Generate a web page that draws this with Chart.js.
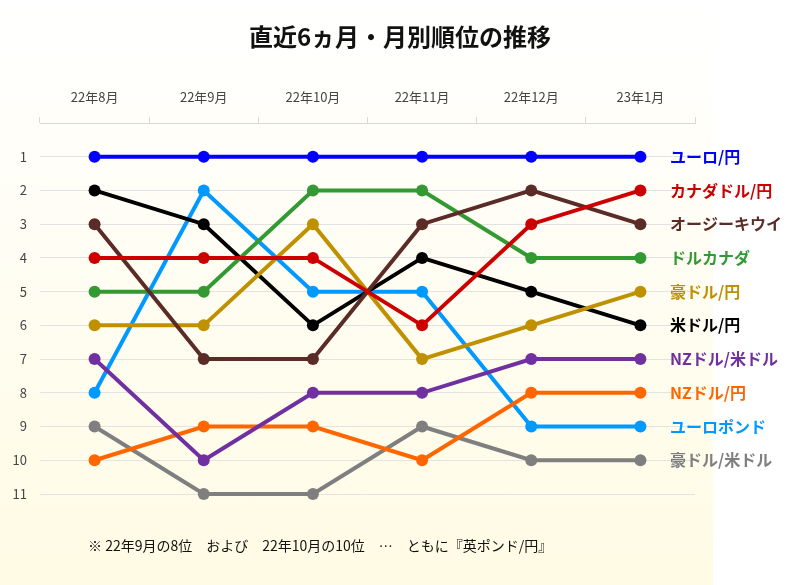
<!DOCTYPE html>
<html lang="ja">
<head>
<meta charset="utf-8">
<title>直近6ヵ月・月別順位の推移</title>
<script src="https://cdn.jsdelivr.net/npm/chart.js@4.4.1/dist/chart.umd.min.js"></script>
<style>
  html, body { margin: 0; padding: 0; background: #fff; }
  #wrap {
    position: relative;
    width: 800px;
    height: 585px;
    background:
      linear-gradient(to bottom, #ffffff 0%, #fffbe4 100%) 0 0 / 713px 585px no-repeat,
      #ffffff;
  }
</style>
</head>
<body>
<div id="wrap"><canvas id="rank-chart"></canvas></div>
<script>
// months (x axis, drawn on top)
const months = ['22年8月', '22年9月', '22年10月', '22年11月', '22年12月', '23年1月'];

// rank per month for each pair
const seriesNames = [
    'ユーロ/円', 'カナダドル/円', 'オージーキウイ', 'ドルカナダ', '豪ドル/円',
    '米ドル/円', 'NZドル/米ドル', 'NZドル/円', 'ユーロポンド', '豪ドル/米ドル'
];
const eurJpy    = [1, 1, 1, 1, 1, 1];
const cadJpy    = [4, 4, 4, 6, 3, 2];
const audNzd    = [3, 7, 7, 3, 2, 3];
const usdCad    = [5, 5, 2, 2, 4, 4];
const audJpy    = [6, 6, 3, 7, 6, 5];
const usdJpy    = [2, 3, 6, 4, 5, 6];
const nzdUsd    = [7, 10, 8, 8, 7, 7];
const nzdJpy    = [10, 9, 9, 10, 8, 8];
const eurGbp    = [8, 2, 5, 5, 9, 9];
const audUsd    = [9, 11, 11, 9, 10, 10];

const rankTicks = [1, 2, 3, 4, 5, 6, 7, 8, 9, 10, 11];
const titleText = '直近6ヵ月・月別順位の推移';
const noteText = '※ 22年9月の8位　および　22年10月の10位　…　ともに『英ポンド/円』';

const seriesData = [eurJpy, cadJpy, audNzd, usdCad, audJpy, usdJpy, nzdUsd, nzdJpy, eurGbp, audUsd];
const seriesColors = [
    '#0000ff', '#cc0000', '#5b2b27', '#339933', '#bf9000',
    '#000000', '#7030a0', '#ff6600', '#0099ff', '#7f7f7f'
];

const FONT = "'Noto Sans CJK JP', 'Noto Sans', sans-serif";

// =====================
// PLUGINS
// =====================

// title centred on the whole page, not on the plot
const pageTitle = {
    id: 'pageTitle',
    afterDraw(chart) {
        const ctx = chart.ctx;
        ctx.save();
        ctx.font = `bold 24px ${FONT}`;
        ctx.fillStyle = '#111';
        ctx.textAlign = 'center';
        ctx.textBaseline = 'middle';
        ctx.fillText(titleText, 400, 37);
        ctx.restore();
    }
};

// series names at the right end of each line
const endLabels = {
    id: 'endLabels',
    afterDatasetsDraw(chart) {
        const ctx = chart.ctx;
        const y = chart.scales.y;
        ctx.save();
        ctx.font = `bold 16px ${FONT}`;
        ctx.textAlign = 'left';
        ctx.textBaseline = 'middle';
        chart.data.datasets.forEach(ds => {
            const last = ds.data[ds.data.length - 1];
            ctx.fillStyle = ds.borderColor;
            ctx.fillText(ds.label, 670, y.getPixelForValue(last));
        });
        ctx.restore();
    }
};

// footnote under the chart
const footNote = {
    id: 'footNote',
    afterDraw(chart) {
        const ctx = chart.ctx;
        ctx.save();
        ctx.font = `14px ${FONT}`;
        ctx.fillStyle = '#111';
        ctx.textAlign = 'left';
        ctx.textBaseline = 'middle';
        ctx.fillText(noteText, 88, 546);
        ctx.restore();
    }
};

// =====================
// CHART
// =====================

const datasets = seriesNames.map((name, i) => ({
    label: name,
    data: seriesData[i],
    borderColor: seriesColors[i],
    backgroundColor: seriesColors[i],
    pointBackgroundColor: seriesColors[i],
    pointBorderColor: seriesColors[i],
    borderWidth: 4,
    pointRadius: 6,
    pointBorderWidth: 0,
    tension: 0,
    fill: false,
    clip: false,
}));

new Chart(document.getElementById('rank-chart'), {
    type: 'line',
    data: { labels: months, datasets: datasets },
    options: {
        responsive: true,
        maintainAspectRatio: false,
        animation: false,
        layout: { padding: { left: 0, right: 105, top: 70, bottom: 91 } },
        plugins: {
            legend: { display: false },
            tooltip: { enabled: false },
            title: { display: false },
        },
        scales: {
            x: {
                position: 'top',
                offset: true,
                grid: {
                    offset: true,
                    drawOnChartArea: false,
                    drawTicks: true,
                    tickLength: 6,
                    color: '#d9d9d9',
                },
                border: { display: true, color: '#d9d9d9' },
                ticks: {
                    color: '#444',
                    padding: 12,
                    font: { family: FONT, size: 13 },
                },
                afterFit(scale) { scale.height = 53; },
            },
            y: {
                reverse: true,
                min: 0,
                max: 11,
                afterBuildTicks(scale) {
                    scale.ticks = [0].concat(rankTicks).map(v => ({ value: v }));
                },
                grid: { color: '#e3e3e3', drawTicks: false },
                border: { display: false },
                ticks: {
                    color: '#444',
                    padding: 13,
                    font: { family: FONT, size: 13 },
                    callback: v => (v === 0 ? '' : v),
                },
                afterFit(scale) { scale.width = 40; },
            },
        },
    },
    plugins: [pageTitle, endLabels, footNote],
});
</script>
</body>
</html>
